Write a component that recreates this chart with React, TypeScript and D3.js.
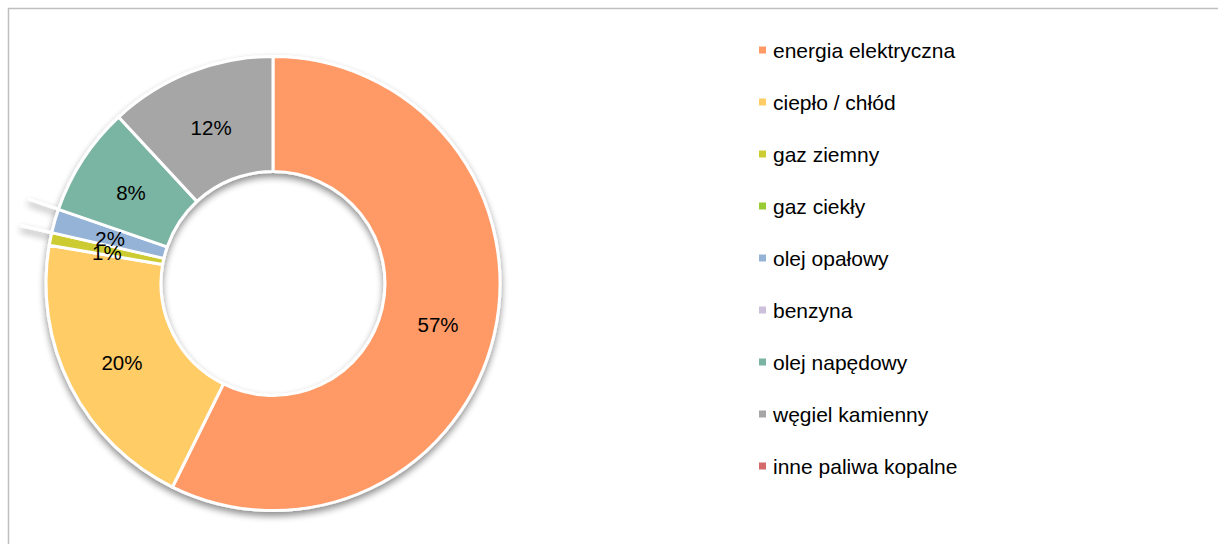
import React from 'react';
import * as d3 from 'd3';

const categories = [
  'energia elektryczna',
  'ciepło / chłód',
  'gaz ziemny',
  'gaz ciekły',
  'olej opałowy',
  'benzyna',
  'olej napędowy',
  'węgiel kamienny',
  'inne paliwa kopalne',
];
const shares = [57.3, 20.4, 0.9, 0, 1.7, 0, 7.8, 11.9, 0];
const colors = ['#FF9966', '#FFCC66', '#CCCC33', '#99CC33', '#95B3D7', '#CCC0DA', '#7AB4A2', '#A6A6A6', '#D46A6A'];

export default function App() {
  const W = 1218, H = 544;
  const cx = 273, cy = 283.5, rOuter = 227, rInner = 112;
  const explode = 32;
  const font = '"Liberation Sans", Arial, sans-serif';

  const pie = d3.pie<number>().sort(null).value((d) => d);
  const arcs = pie(shares);
  const arcGen = d3.arc<d3.PieArcDatum<number>>().innerRadius(rInner).outerRadius(rOuter);
  const labelR = (rInner + rOuter) / 2;
  const labelArc = d3.arc<d3.PieArcDatum<number>>().innerRadius(labelR).outerRadius(labelR);

  const legendY = d3.scalePoint<string>().domain(categories).range([50, 466]);

  const zeroLines = arcs.filter(
    (a) => a.data === 0 && a.startAngle > 1e-6 && a.startAngle < 2 * Math.PI - 1e-6
  );

  return (
    <div style={{ position: 'fixed', left: 0, top: 0 }}>
      <svg width={W} height={H} style={{ display: 'block' }}>
        <defs>
          <filter id="shadow" x="-20%" y="-20%" width="140%" height="140%">
            <feGaussianBlur in="SourceAlpha" stdDeviation="3.5" />
            <feOffset dx="0" dy="4" result="off" />
            <feComponentTransfer>
              <feFuncA type="linear" slope="0.45" />
            </feComponentTransfer>
            <feMerge>
              <feMergeNode />
              <feMergeNode in="SourceGraphic" />
            </feMerge>
          </filter>
        </defs>
        <rect x={8.5} y={8.5} width={W + 20} height={H + 20} fill="#fff" stroke="#BFBFBF" strokeWidth={1.5} />
        <g filter="url(#shadow)">
          {zeroLines.map((a, i) => {
            const ang = a.startAngle;
            const r0 = rInner + explode, r1 = rOuter + explode;
            return (
              <line
                key={'z' + i}
                x1={cx + r0 * Math.sin(ang)}
                y1={cy - r0 * Math.cos(ang)}
                x2={cx + r1 * Math.sin(ang)}
                y2={cy - r1 * Math.cos(ang)}
                stroke="#fff"
                strokeWidth={3}
              />
            );
          })}
          <g transform={`translate(${cx},${cy})`}>
            {arcs.map((a, i) =>
              a.data > 0 ? (
                <path key={i} d={arcGen(a) || ''} fill={colors[i]} stroke="#fff" strokeWidth={3} strokeLinejoin="round" />
              ) : null
            )}
          </g>
        </g>
        <g transform={`translate(${cx},${cy})`}>
          {arcs.map((a, i) => {
            if (a.data <= 0) return null;
            const [x, y] = labelArc.centroid(a);
            return (
              <text
                key={'l' + i}
                x={x}
                y={y + 2}
                textAnchor="middle"
                dominantBaseline="central"
                fontFamily={font}
                fontSize={20.5}
                fill="#000"
              >
                {Math.round(a.data) + '%'}
              </text>
            );
          })}
        </g>
        <g>
          {categories.map((c, i) => {
            const y = legendY(c) || 0;
            return (
              <g key={'lg' + i}>
                <rect x={759} y={y - 3.5} width={7} height={7} fill={colors[i]} />
                <text x={773} y={y + 7.5} fontFamily={font} fontSize={21} fill="#000">
                  {c}
                </text>
              </g>
            );
          })}
        </g>
      </svg>
    </div>
  );
}
